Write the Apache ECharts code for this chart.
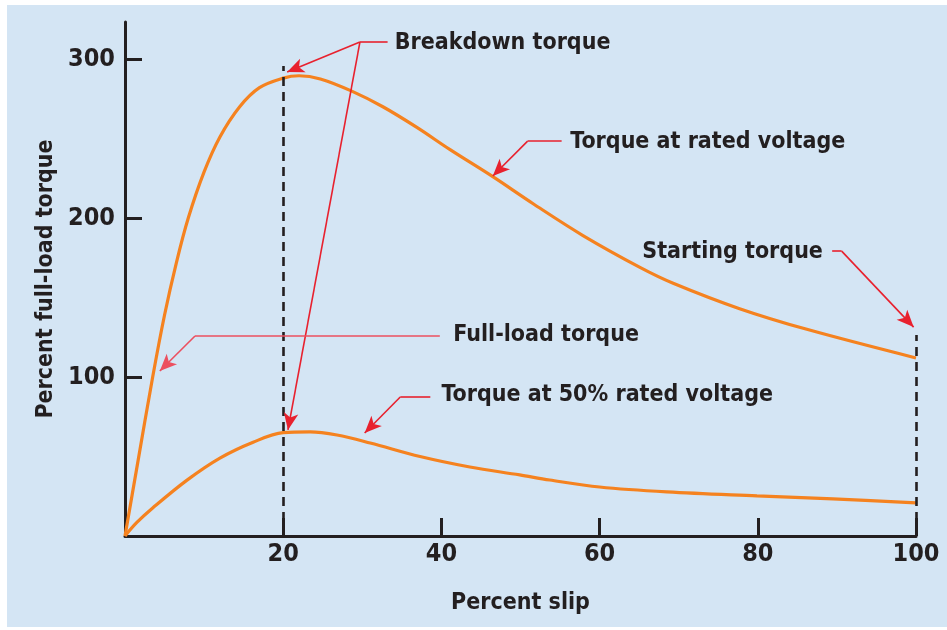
<!DOCTYPE html>
<html><head><meta charset="utf-8">
<script src="https://cdn.jsdelivr.net/npm/echarts@6/dist/echarts.min.js"></script>
<style>html,body{margin:0;padding:0;background:#fff}#c{width:947px;height:630px}</style>
</head><body><div id="c"></div>
<script>
// ---- data (percent slip, percent full-load torque) ----
const ratedSlip   = [0, 1.5, 3.5, 5, 6.5, 8, 10, 12, 14.5, 17, 20, 22, 24.7, 28.6, 32.6, 36.9, 41.1, 46.5, 51.6, 57.9, 65.1, 69.3, 77.7, 86.2, 100];
const ratedTorque = [0, 43, 100, 139, 172, 200, 229, 251, 270, 282, 288, 289.5, 287.5, 280, 270, 257, 243, 226, 209, 189, 169, 159, 143, 130, 112];
const halfSlip    = [0, 1.5, 3.5, 7.8, 12, 16.2, 20, 23.4, 26.8, 31, 37.3, 43.6, 49.9, 53.7, 60, 68.5, 79.9, 89.5, 100];
const halfTorque  = [0, 8.5, 17.6, 35, 49, 59, 65, 65.5, 63.5, 58.5, 50, 43.4, 38.4, 35.2, 30.8, 27.7, 25.2, 23.3, 20.8];
const xTickLabels = [20, 40, 60, 80, 100];
const yTickLabels = [100, 200, 300];
const breakdownSlip = 20, breakdownTop = 295.6;
const startingSlip = 100, startingTop = 126.4;
// annotations: text anchor [slip, torque]
const annoTexts = ['Breakdown torque', 'Torque at rated voltage', 'Starting torque', 'Full-load torque', 'Torque at 50% rated voltage'];
const annoAnchors = [[34.1, 310.1], [56.3, 247.8], [65.4, 178.6], [41.5, 126.4], [40.0, 88.7]];
// leader segments [from, to, arrow?, colour]
const leaders = [
  [[33.2, 310.7], [29.7, 310.7], false, '#e8212e'],
  [[29.7, 310.7], [20.5, 291.8], true, '#e8212e'],
  [[29.7, 310.7], [20.6, 66.7], true, '#e8212e'],
  [[55.2, 248.4], [50.9, 248.4], false, '#e8212e'],
  [[50.9, 248.4], [46.5, 226.4], true, '#e8212e'],
  [[89.4, 179.2], [90.6, 179.2], false, '#e8212e'],
  [[90.6, 179.2], [99.7, 131.4], true, '#e8212e'],
  [[39.8, 125.8], [8.85, 125.8], false, '#ec4f5f'],
  [[8.85, 125.8], [4.4, 103.8], true, '#ec4f5f'],
  [[38.6, 87.4], [34.8, 87.4], false, '#e8212e'],
  [[34.8, 87.4], [30.3, 64.8], true, '#e8212e']
];

const FONT = "'DejaVu Sans Condensed', 'Liberation Sans Narrow', sans-serif";
const INK = '#231f20';
const ORANGE = '#f5821f';

const chart = echarts.init(document.getElementById('c'), null, {renderer: 'canvas'});
const zip = (a, b) => a.map((v, i) => [v, b[i]]);

chart.setOption({
  animation: false,
  backgroundColor: '#ffffff',
  graphic: [{type: 'rect', z: -10, silent: true, left: 7, top: 5, shape: {width: 940, height: 622}, style: {fill: '#d4e5f4'}}],
  grid: {left: 125, right: 31, top: 22, bottom: 94},
  xAxis: {
    type: 'value', min: 0, max: 100, interval: 20,
    name: 'Percent slip', nameLocation: 'middle', nameGap: 56,
    nameTextStyle: {fontFamily: FONT, fontWeight: 'bold', fontSize: 23, color: INK},
    axisLine: {show: true, lineStyle: {color: INK, width: 3}},
    axisTick: {show: true, inside: true, length: 18, lineStyle: {color: INK, width: 3}, customValues: [20, 40, 60, 80, 100]},
    axisLabel: {fontFamily: FONT, fontWeight: 'bold', fontSize: 25, color: INK, margin: 6, customValues: xTickLabels},
    splitLine: {show: false}
  },
  yAxis: {
    type: 'value', min: 0, max: 323.3, interval: 100,
    name: 'Percent full-load torque', nameLocation: 'middle', nameGap: 63, nameRotate: 90,
    nameTextStyle: {fontFamily: FONT, fontWeight: 'bold', fontSize: 23, color: INK},
    axisLine: {show: true, lineStyle: {color: INK, width: 3}},
    axisTick: {show: true, inside: true, length: 17, lineStyle: {color: INK, width: 3}, customValues: yTickLabels},
    axisLabel: {fontFamily: FONT, fontWeight: 'bold', fontSize: 25, color: INK, margin: 10, customValues: yTickLabels},
    splitLine: {show: false}
  },
  series: [
    {
      name: 'Torque at rated voltage', type: 'line', data: zip(ratedSlip, ratedTorque),
      smooth: 0.35, showSymbol: false, silent: true, z: 3,
      lineStyle: {color: ORANGE, width: 3.2}
    },
    {
      name: 'Torque at 50% rated voltage', type: 'line', data: zip(halfSlip, halfTorque),
      smooth: 0.35, showSymbol: false, silent: true, z: 3,
      lineStyle: {color: ORANGE, width: 3.2}
    },
    {
      name: 'guides', type: 'line', data: [], silent: true, z: 4,
      markLine: {
        silent: true, symbol: 'none', label: {show: false},
        lineStyle: {color: INK, width: 2.6, type: [9, 6]},
        data: [
          [{coord: [breakdownSlip, 0]}, {coord: [breakdownSlip, breakdownTop]}],
          [{coord: [startingSlip, 0]}, {coord: [startingSlip, startingTop]}]
        ]
      }
    },
    {
      name: 'leaders', type: 'line', data: [], silent: true, z: 5,
      markLine: {
        silent: true, label: {show: false}, emphasis: {disabled: true},
        symbolSize: [11, 17],
        data: leaders.map(l => [
          {coord: l[0], symbol: 'none', lineStyle: {color: l[3], width: 1.6, type: 'solid'}},
          {coord: l[1], symbol: l[2] ? 'arrow' : 'none', lineStyle: {color: l[3], width: 1.6, type: 'solid'}}
        ])
      },
      markPoint: {
        silent: true, symbol: 'circle', symbolSize: 0,
        data: annoTexts.map((t, i) => ({name: t, coord: annoAnchors[i],
          label: {show: true, position: 'right', distance: 0, formatter: t,
            fontFamily: FONT, fontWeight: 'bold', fontSize: 23, color: INK}}))
      }
    }
  ]
});
</script></body></html>
